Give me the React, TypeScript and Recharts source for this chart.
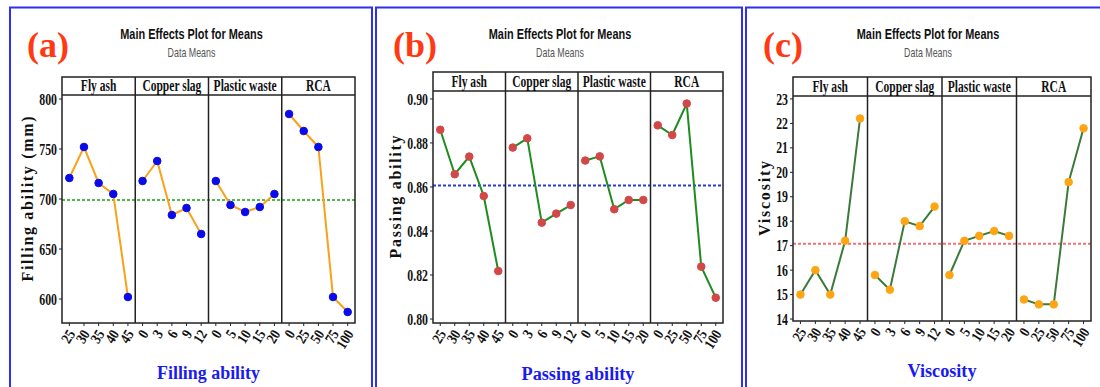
import React from 'react';
import { LineChart, Line, XAxis, YAxis, ReferenceLine } from 'recharts';

const facets = ['Fly ash', 'Copper slag', 'Plastic waste', 'RCA'];
const levelLabels = [
    ['25', '30', '35', '40', '45'],
    ['0', '3', '6', '9', '12'],
    ['0', '5', '10', '15', '20'],
    ['0', '25', '50', '75', '100'],
];

// (a) filling ability (mm)
const fillingFlyAsh = [721, 752, 716, 705, 602];
const fillingCopper = [718, 738, 684, 691, 665];
const fillingPlastic = [718, 694, 687, 692, 705];
const fillingRca = [785, 768, 752, 602, 587];
const fillingTicks = [600, 650, 700, 750, 800];

// (b) passing ability
const passingFlyAsh = [0.886, 0.8658, 0.8738, 0.8559, 0.8218];
const passingCopper = [0.8779, 0.8821, 0.8438, 0.8479, 0.8518];
const passingPlastic = [0.872, 0.8739, 0.8499, 0.8541, 0.8541];
const passingRca = [0.888, 0.8836, 0.8979, 0.8238, 0.8097];
const passingTicks = [0.8, 0.82, 0.84, 0.86, 0.88, 0.9];

// (c) viscosity
const viscFlyAsh = [15.0, 16.0, 15.0, 17.2, 22.2];
const viscCopper = [15.8, 15.2, 18.0, 17.8, 18.6];
const viscPlastic = [15.8, 17.2, 17.4, 17.6, 17.4];
const viscRca = [14.8, 14.6, 14.6, 19.6, 21.8];
const viscTicks = [14, 15, 16, 17, 18, 19, 20, 21, 22, 23];

const SERIF = "'Liberation Serif', 'Times New Roman', serif";
const SANS = "'Liberation Sans', Arial, sans-serif";

const tickPositions: number[] = [];
const tickNames: Record<string, string> = {};
levelLabels.forEach((lv, f) => lv.forEach((name, j) => {
    const p = f * 5 + j + 0.5;
    tickPositions.push(p);
    tickNames[String(p)] = name;
}));

const toLines = (series: number[][]) =>
    series.map((vals, f) => vals.map((v, j) => ({ pos: f * 5 + j + 0.5, value: v })));

const mean = (series: number[][]) => {
    const all = series.flat();
    return all.reduce((s, v) => s + v, 0) / all.length;
};

interface PanelCfg {
    letter: string,
    frame: { x: number, w: number },
    plot: { x: number, y: number, w: number, h: number },
    header: number,
    domain: [number, number],
    ticks: number[],
    fmt: (v: number) => string,
    series: number[][],
    line: string,
    dot: string,
    refColor: string,
    yTitle: string,
    yTitleLen: number,
    yTitleX: number,
    xTitle: string,
    xTitleLen: number,
    xTitleY: number,
    titleX: number,
}

const panels: PanelCfg[] = [
    {
        letter: '(a)', frame: { x: 10, w: 362 },
        plot: { x: 62, y: 95, w: 293, h: 228 }, header: 18,
        domain: [576, 804], ticks: fillingTicks, fmt: v => String(v),
        series: [fillingFlyAsh, fillingCopper, fillingPlastic, fillingRca],
        line: '#f9a11b', dot: '#0b0bea', refColor: '#4fb84f',
        yTitle: 'Filling ability (mm)', yTitleLen: 165, yTitleX: 33,
        xTitle: 'Filling ability', xTitleLen: 103, xTitleY: 379, titleX: 191.5,
    },
    {
        letter: '(b)', frame: { x: 376, w: 366 },
        plot: { x: 433, y: 91, w: 290, h: 232 }, header: 19,
        domain: [0.7982, 0.9036], ticks: passingTicks, fmt: v => v.toFixed(2),
        series: [passingFlyAsh, passingCopper, passingPlastic, passingRca],
        line: '#1e8c1e', dot: '#d24848', refColor: '#2b3dcf',
        yTitle: 'Passing ability', yTitleLen: 123, yTitleX: 401,
        xTitle: 'Passing ability', xTitleLen: 113, xTitleY: 380, titleX: 560,
    },
    {
        letter: '(c)', frame: { x: 746, w: 400 },
        plot: { x: 793, y: 96, w: 298, h: 225 }, header: 19,
        domain: [13.92, 23.12], ticks: viscTicks, fmt: v => String(v),
        series: [viscFlyAsh, viscCopper, viscPlastic, viscRca],
        line: '#3b7a3b', dot: '#ffa514', refColor: '#ea7474',
        yTitle: 'Viscosity', yTitleLen: 75, yTitleX: 770,
        xTitle: 'Viscosity', xTitleLen: 69, xTitleY: 377, titleX: 928,
    },
];

const YTick = ({ x, y, payload, fmt }: any) => (
    <g transform={`translate(${x},${y}) scale(0.74,1)`}>
        <text x={0} y={0} dy="0.35em" textAnchor="end" fontFamily={SERIF} fontWeight="bold" fontSize={16} fill="#111">
            {fmt(payload.value)}
        </text>
    </g>
);

const XTick = ({ x, y, payload }: any) => (
    <g transform={`translate(${x + 2},${y + 3}) rotate(-58) scale(0.85,1)`}>
        <text x={0} y={0} dy="0.35em" textAnchor="end" fontFamily={SERIF} fontWeight="bold" fontSize={15} fill="#111">
            {tickNames[String(payload.value)]}
        </text>
    </g>
);

const Panel = ({ cfg }: { cfg: PanelCfg }) => {
    const { plot } = cfg;
    const lines = toLines(cfg.series);
    const grand = mean(cfg.series);
    return (
        <div style={{ position: 'absolute', left: plot.x - 60, top: plot.y - 10 }}>
            <LineChart
                width={plot.w + 70}
                height={plot.h + 70}
                margin={{ top: 10, right: 10, bottom: 0, left: 0 }}
            >
                <XAxis
                    type="number"
                    dataKey="pos"
                    domain={[0, 20]}
                    ticks={tickPositions}
                    interval={0}
                    height={60}
                    axisLine={false}
                    tickSize={3}
                    tickLine={{ stroke: '#222' }}
                    tick={<XTick />}
                    allowDataOverflow
                />
                <YAxis
                    type="number"
                    domain={cfg.domain}
                    ticks={cfg.ticks}
                    width={60}
                    axisLine={false}
                    tickSize={3}
                    tickLine={{ stroke: '#222' }}
                    tick={<YTick fmt={cfg.fmt} />}
                    allowDataOverflow
                />
                <ReferenceLine y={grand} stroke={cfg.refColor} strokeWidth={2} strokeDasharray="3 2" />
                {[5, 10, 15].map(d => (
                    <ReferenceLine key={d} x={d} stroke="#222" strokeWidth={1.5} />
                ))}
                {lines.map((data, i) => (
                    <Line
                        key={facets[i]}
                        data={data}
                        dataKey="value"
                        type="linear"
                        stroke={cfg.line}
                        strokeWidth={2}
                        dot={{ r: 3.8, fill: cfg.dot, stroke: cfg.dot, strokeWidth: 1 }}
                        isAnimationActive={false}
                    />
                ))}
            </LineChart>
        </div>
    );
};

const Decor = ({ cfg }: { cfg: PanelCfg }) => {
    const { plot, header } = cfg;
    const cellW = plot.w / 4;
    const hy = plot.y - header;
    const midY = plot.y + plot.h / 2 - 10;
    return (
        <g>
            <rect x={cfg.frame.x} y={7.5} width={cfg.frame.w} height={400} fill="none" stroke="#2f2ff5" strokeWidth={2} />
            <text x={cfg.frame.x + 17} y={57} fontFamily={SERIF} fontWeight="bold" fontSize={36} fill="#ff3a12">
                {cfg.letter}
            </text>
            <text transform={`translate(${cfg.titleX},39) scale(0.78,1)`} textAnchor="middle" fontFamily={SANS} fontWeight="bold" fontSize={14} fill="#111">
                Main Effects Plot for Means
            </text>
            <text transform={`translate(${cfg.titleX},57) scale(0.74,1)`} textAnchor="middle" fontFamily={SANS} fontSize={12} fill="#555">
                Data Means
            </text>
            <rect x={plot.x} y={hy} width={plot.w} height={plot.h + header} fill="none" stroke="#222" strokeWidth={1.5} />
            <line x1={plot.x} x2={plot.x + plot.w} y1={plot.y} y2={plot.y} stroke="#222" strokeWidth={1.5} />
            {facets.map((name, i) => (
                <g key={name}>
                    {i > 0 && (
                        <line x1={plot.x + cellW * i} x2={plot.x + cellW * i} y1={hy} y2={plot.y} stroke="#222" strokeWidth={1.5} />
                    )}
                    <text
                        transform={`translate(${plot.x + cellW * (i + 0.5)},${plot.y - 4}) scale(0.72,1)`}
                        textAnchor="middle" fontFamily={SERIF} fontWeight="bold" fontSize={16} fill="#111"
                    >
                        {name}
                    </text>
                </g>
            ))}
            <text
                transform={`translate(${cfg.yTitleX},${midY}) rotate(-90)`}
                textAnchor="middle" fontFamily={SERIF} fontWeight="bold" fontSize={16} fill="#111"
                textLength={cfg.yTitleLen} lengthAdjust="spacing"
            >
                {cfg.yTitle}
            </text>
            <text
                x={plot.x + plot.w / 2} y={cfg.xTitleY}
                textAnchor="middle" fontFamily={SERIF} fontWeight="bold" fontSize={18} fill="#1a1aee"
                textLength={cfg.xTitleLen} lengthAdjust="spacingAndGlyphs"
            >
                {cfg.xTitle}
            </text>
        </g>
    );
};

export default function App() {
    return (
        <div style={{ position: 'absolute', left: 0, top: 0, width: 1100, height: 387, background: '#fff', overflow: 'hidden' }}>
            {panels.map(p => <Panel key={p.letter} cfg={p} />)}
            <svg width={1100} height={387} style={{ position: 'absolute', left: 0, top: 0, pointerEvents: 'none' }}>
                {panels.map(p => <Decor key={p.letter} cfg={p} />)}
            </svg>
        </div>
    );
}
